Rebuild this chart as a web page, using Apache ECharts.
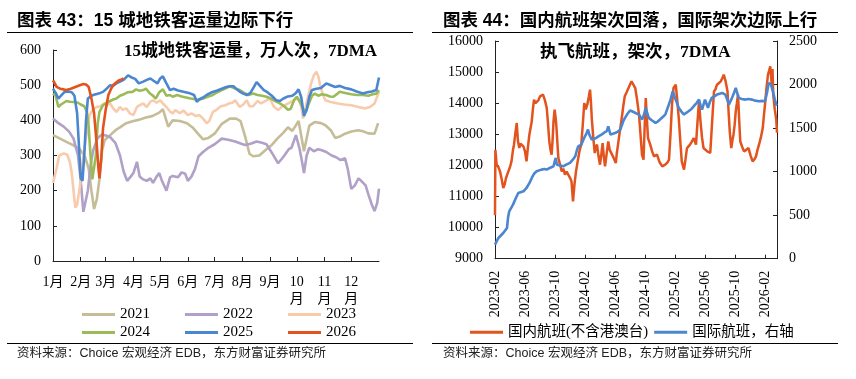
<!DOCTYPE html>
<html><head><meta charset="utf-8">
<script src="https://cdn.jsdelivr.net/npm/echarts@6/dist/echarts.min.js"></script>
<style>html,body{margin:0;padding:0;background:#fff}#c{width:856px;height:379px}</style>
</head><body><div id="c"></div>
<script>
// ---------- Left chart: 15-city metro ridership (万人次, 7DMA), x = day of year ----------
const monthStartDays = [0,31,59,90,120,151,181,212,243,273,304,334];
const monthLabels = ['1月','2月','3月','4月','5月','6月','7月','8月','9月','10\n月','11\n月','12\n月'];
const metroYears = ['2021','2022','2023','2024','2025','2026'];

const days2021 = [0,8,15,22,30,36,40,43,46,49,52,55,58,64,70,75,82,90,97,104,111,119,123,129,134,142,150,157,163,168,174,181,189,198,205,210,215,220,224,231,239,245,252,258,263,268,275,281,287,293,300,305,311,316,322,327,334,342,348,353,360,364];
const vals2021 = [358,348,339,330,318,295,262,200,148,175,232,315,344,358,372,380,392,398,402,408,412,422,432,382,400,398,392,378,360,346,350,362,390,405,405,398,355,305,298,300,318,330,350,365,380,370,398,312,385,395,392,386,372,350,355,362,368,372,368,363,362,392];

const days2022 = [0,6,12,18,23,28,31,34,36,39,42,45,50,55,60,64,70,75,79,83,87,90,94,97,101,105,109,112,116,119,122,127,131,134,140,144,148,151,155,159,163,168,174,181,189,196,204,210,215,222,228,234,239,245,252,256,259,264,267,272,276,279,281,284,287,292,297,301,306,312,317,322,327,330,334,338,342,345,347,350,353,357,360,363,365];
const vals2022 = [405,392,382,368,348,300,230,140,135,200,270,315,350,360,356,352,335,300,255,228,240,250,282,240,232,228,235,222,240,250,228,200,238,242,238,252,248,228,240,262,298,310,322,332,348,345,340,334,330,334,340,336,332,308,278,290,300,318,322,358,320,280,250,300,322,312,318,315,310,300,295,287,292,262,205,215,235,228,225,215,190,160,142,165,206];

const days2023 = [0,4,7,12,16,19,21,23,25,27,30,34,38,41,45,49,53,57,60,64,68,71,75,78,82,86,90,94,97,101,105,109,112,116,120,123,127,131,134,137,142,146,151,155,160,164,168,172,175,179,183,188,193,197,201,204,209,213,217,220,224,229,233,239,243,247,252,256,261,267,272,275,278,280,283,286,289,292,295,297,299,302,305,311,319,326,334,342,349,355,360,365];
const vals2023 = [222,263,300,306,302,280,250,200,152,160,210,300,368,415,432,438,440,448,443,448,432,424,438,430,434,420,415,438,443,448,438,453,457,450,457,448,438,425,420,429,420,428,415,420,412,415,405,392,398,424,430,440,443,448,450,457,438,445,457,440,440,455,448,457,462,440,429,438,445,453,460,462,440,405,440,472,505,528,538,525,501,475,457,452,448,445,443,438,434,438,448,481];

const days2024 = [0,3,6,9,11,15,19,24,28,31,35,38,40,42,44,46,48,50,52,56,60,64,68,71,75,80,84,89,93,97,101,104,108,111,115,119,123,127,131,134,139,144,149,154,159,164,169,174,179,184,189,194,198,204,209,214,219,224,229,234,239,244,249,254,259,263,266,270,273,277,280,283,286,290,293,297,301,306,310,314,318,321,327,334,340,347,353,358,362,365];
const vals2024 = [476,470,438,445,448,455,453,452,450,445,440,424,380,300,232,235,300,390,424,443,450,455,460,462,470,475,480,481,488,484,486,490,478,472,462,480,488,470,472,467,472,468,465,462,460,459,463,468,472,480,486,492,497,490,486,478,472,476,472,470,467,462,455,448,440,430,432,458,467,450,432,424,445,470,476,470,474,472,468,467,475,481,478,474,472,472,470,474,476,486];

const days2025 = [0,3,6,9,13,17,21,24,27,29,31,33,35,37,39,42,45,49,53,56,60,64,67,71,75,79,84,88,92,96,101,105,109,113,117,120,123,127,131,135,140,146,152,158,161,164,168,172,178,184,189,194,198,202,206,210,213,217,221,225,228,231,236,240,245,250,254,258,263,268,272,275,278,281,284,287,290,295,300,306,311,316,321,327,334,340,347,352,357,362,365];
const vals2025 = [490,478,462,470,481,482,480,470,420,330,235,228,300,400,462,468,472,475,478,481,490,500,498,505,510,515,528,522,518,505,510,515,519,512,505,519,525,505,486,490,485,481,478,472,453,460,465,472,480,485,490,495,497,497,488,480,476,472,478,495,509,500,486,480,470,457,455,462,468,470,478,488,465,412,430,468,486,490,492,505,500,495,498,492,488,482,476,480,482,486,522];

const days2026 = [0,2,4,6,8,12,15,20,25,30,34,37,40,43,46,49,51,52,54,56,59,62,65,68,71,74,77,79];
const vals2026 = [514,505,495,500,490,488,486,490,495,500,503,502,495,462,420,330,260,235,290,377,430,472,490,502,508,514,516,519];

// ---------- Right chart: scheduled flights (架次, 7DMA), x = months since 2023-02 ----------
const flightTickMonths = [0,4,8,12,16,20,24,28,32,36];
const flightTickLabels = ['2023-02','2023-06','2023-10','2024-02','2024-06','2024-10','2025-02','2025-06','2025-10','2026-02'];
const domMonths = [0,0.05,0.22,0.45,0.67,0.9,1.1,1.3,1.47,1.78,2.0,2.2,2.4,2.53,2.75,2.9,3.05,3.24,3.4,3.55,3.8,4.0,4.2,4.4,4.58,4.9,5.05,5.2,5.4,5.55,5.8,6.0,6.2,6.4,6.65,6.9,7.05,7.24,7.4,7.55,7.7,7.8,7.95,8.1,8.2,8.35,8.45,8.7,8.9,9.1,9.33,9.55,9.78,10.0,10.2,10.4,10.6,10.8,11.1,11.3,11.5,11.7,11.9,12.1,12.3,12.5,12.67,12.8,12.9,13.1,13.3,13.45,13.6,13.8,14.0,14.2,14.35,14.5,14.67,14.9,15.1,15.3,15.55,15.8,16.1,16.25,16.4,16.65,16.9,17.1,17.3,17.55,17.8,18.0,18.2,18.45,18.7,18.95,19.2,19.4,19.6,19.8,19.95,20.1,20.25,20.4,20.7,20.95,21.2,21.6,21.95,22.3,22.7,23.0,23.2,23.4,23.6,23.8,24.1,24.3,24.5,24.7,24.9,25.2,25.4,25.6,26.0,26.2,26.5,26.8,27.0,27.2,27.4,27.6,27.8,28.05,28.3,28.7,28.95,29.2,29.4,29.6,29.85,30.1,30.3,30.5,30.75,31.0,31.15,31.3,31.5,31.65,31.8,31.95,32.1,32.25,32.4,32.55,32.7,32.95,33.2,33.5,33.8,34.1,34.35,34.6,34.8,35.0,35.2,35.45,35.7,35.85,36.0,36.2,36.4,36.55,36.7,36.8,36.9,37.0,37.1,37.3,37.5,37.6];
const domFlights = [10400,12500,12022,11950,11808,11550,11272,11400,11594,11808,11950,12130,12500,12666,13100,13362,12800,12558,12700,12666,12600,12451,12130,12600,12988,13416,13800,14113,14000,13952,14100,14220,14250,14274,14100,13845,13400,12773,12500,12344,12900,13416,13791,13500,13202,12600,12237,12000,11808,11900,11701,11800,11862,11600,11486,10843,11400,11808,12237,12500,12666,13300,14006,13800,13952,14200,14434,14000,13523,12900,12398,12600,12666,12300,12022,12400,12719,12300,11969,12400,12773,12500,12451,12250,12076,12400,12666,13100,13523,13900,14220,14350,14488,14600,14702,14595,14488,14100,13630,13000,12344,12183,13200,14166,13500,12880,12666,12450,12290,12344,12100,11969,12022,12100,12183,13000,13952,14488,14595,14100,13523,12800,12130,11862,12200,12558,12666,12750,12880,12666,13400,14060,13416,12900,12558,12500,12451,12398,13400,14381,14450,14595,14650,14702,14800,14917,14700,14381,13700,13095,12558,12800,12988,13300,13738,14000,14274,13500,12773,12600,12451,12500,12558,12300,12130,12200,12290,12500,12666,12900,13202,13600,13952,14500,14917,15050,15185,14900,14595,15100,14274,13800,13470,13050];
const intlMonths = [0,0.45,1.1,1.6,1.75,1.9,2.4,2.8,3.1,3.8,4.2,4.6,4.9,5.2,5.55,6.2,6.6,6.9,7.3,7.8,8.0,8.1,8.25,8.45,9.1,9.5,10.0,10.4,10.7,10.9,11.1,11.5,11.8,12.0,12.2,12.4,12.6,12.9,13.5,13.9,14.2,14.6,14.9,15.1,15.25,15.4,16.0,16.4,16.7,16.9,17.1,17.35,17.6,18.0,18.27,18.45,18.8,19.2,19.6,19.85,20.1,20.3,20.5,20.9,21.4,21.7,22.0,22.4,22.7,23.1,23.4,23.7,24.0,24.25,24.5,24.85,25.2,25.5,25.8,26.2,26.5,26.9,27.2,27.4,27.6,27.8,28.0,28.2,28.4,28.65,28.9,29.25,29.6,29.95,30.3,30.7,30.95,31.2,31.4,31.6,31.85,32.1,32.3,32.5,32.9,33.4,33.8,34.3,34.7,35.2,35.6,36.0,36.25,36.5,36.8,37.1,37.3,37.5,37.6];
const intlFlights = [161,238,295,353,480,544,621,700,755,774,812,870,927,975,1004,1023,1030,1023,1042,1061,1130,1157,1080,1061,1061,1080,1100,1140,1176,1240,1291,1310,1370,1406,1440,1483,1420,1368,1387,1410,1425,1450,1464,1521,1470,1425,1444,1460,1483,1530,1579,1620,1655,1701,1693,1674,1670,1655,1598,1650,1732,1670,1617,1590,1560,1575,1598,1630,1655,1750,1827,1923,1847,1790,1732,1690,1655,1675,1693,1720,1751,1790,1827,1760,1712,1770,1827,1780,1732,1800,1847,1865,1885,1895,1904,1885,1830,1770,1810,1847,1900,1961,1900,1847,1835,1827,1835,1827,1815,1808,1812,1808,1900,2019,2000,1904,1830,1770,1760];
const flightNames = ['国内航班(不含港澳台)','国际航班，右轴'];

// ---------- build option ----------
const SERIF = "'Liberation Serif','Noto Sans CJK SC',serif";
const SANS = "'Liberation Sans','Noto Sans CJK SC',sans-serif";
const metroColors = ['#c4bd97','#b1a0c7','#f8cbad','#9bbb59','#4b86d0','#e2531e'];
const metroDays = [days2021,days2022,days2023,days2024,days2025,days2026];
const metroVals = [vals2021,vals2022,vals2023,vals2024,vals2025,vals2026];
const axisCol = '#222';
const pair = (xs, ys) => xs.map((x, i) => [x, ys[i]]);
const plain = v => String(v);

const legendText = {fontFamily: SERIF, fontSize: 15, color: '#000'};

const option = {
  animation: false,
  backgroundColor: '#fff',
  grid: [
    {left: 53, top: 50, width: 326, height: 211},
    {left: 495, top: 41, width: 282, height: 217.7}
  ],
  xAxis: [
    {gridIndex: 0, type: 'value', min: 0, max: 365,
     axisLine: {show: true, lineStyle: {color: axisCol, width: 1}},
     axisTick: {show: true, inside: true, length: 4, customValues: monthStartDays, lineStyle: {color: axisCol}},
     axisLabel: {customValues: monthStartDays, margin: 13, lineHeight: 17, fontFamily: SERIF, fontSize: 14, color: '#000',
       formatter: v => monthLabels[monthStartDays.indexOf(v)] || ''},
     splitLine: {show: false}},
    {gridIndex: 1, type: 'value', min: 0, max: 37.6,
     axisLine: {show: true, onZero: false, lineStyle: {color: axisCol, width: 1}},
     axisTick: {show: true, inside: true, length: 4, customValues: flightTickMonths, lineStyle: {color: axisCol}},
     axisLabel: {customValues: flightTickMonths, rotate: 90, margin: 12, fontFamily: SERIF, fontSize: 14, color: '#000',
       formatter: v => flightTickLabels[flightTickMonths.indexOf(v)] || ''},
     splitLine: {show: false}}
  ],
  yAxis: [
    {gridIndex: 0, type: 'value', min: 0, max: 600, interval: 100,
     axisLine: {show: true, lineStyle: {color: axisCol, width: 1}},
     axisTick: {show: true, inside: true, length: 4, lineStyle: {color: axisCol}},
     axisLabel: {margin: 12, fontFamily: SERIF, fontSize: 14, color: '#000', formatter: plain},
     splitLine: {show: false}},
    {gridIndex: 1, type: 'value', min: 9000, max: 16000, interval: 1000, position: 'left',
     axisLine: {show: true, lineStyle: {color: axisCol, width: 1}},
     axisTick: {show: true, inside: true, length: 4, lineStyle: {color: axisCol}},
     axisLabel: {margin: 12, fontFamily: SERIF, fontSize: 14, color: '#000', formatter: plain},
     splitLine: {show: false}},
    {gridIndex: 1, type: 'value', min: 0, max: 2500, interval: 500, position: 'right',
     axisLine: {show: true, lineStyle: {color: axisCol, width: 1}},
     axisTick: {show: true, inside: true, length: 4, lineStyle: {color: axisCol}},
     axisLabel: {margin: 12, fontFamily: SERIF, fontSize: 14, color: '#000', formatter: plain},
     splitLine: {show: false}}
  ],
  legend: [
    {data: metroYears.slice(0, 3), left: 82, top: 307, itemWidth: 33, itemHeight: 3, itemGap: 35, icon: 'rect', textStyle: legendText, padding: 0},
    {data: metroYears.slice(3), left: 82, top: 325, itemWidth: 33, itemHeight: 3, itemGap: 35, icon: 'rect', textStyle: legendText, padding: 0},
    {data: flightNames, left: 470, top: 325, itemWidth: 33, itemHeight: 3, itemGap: 6, icon: 'rect',
     textStyle: {fontFamily: SERIF, fontSize: 14.5, color: '#000'}, padding: 0}
  ],
  series: [
    ...metroYears.map((y, i) => ({
      name: y, type: 'line', xAxisIndex: 0, yAxisIndex: 0, showSymbol: false, symbol: 'none',
      data: pair(metroDays[i], metroVals[i]),
      lineStyle: {width: 2.6, color: metroColors[i]}, itemStyle: {color: metroColors[i]}
    })),
    {name: flightNames[0], type: 'line', xAxisIndex: 1, yAxisIndex: 1, showSymbol: false, symbol: 'none',
     data: pair(domMonths, domFlights), lineStyle: {width: 2.5, color: '#e2531e'}, itemStyle: {color: '#e2531e'}},
    {name: flightNames[1], type: 'line', xAxisIndex: 1, yAxisIndex: 2, showSymbol: false, symbol: 'none',
     data: pair(intlMonths, intlFlights), lineStyle: {width: 2.6, color: '#4b86d0'}, itemStyle: {color: '#4b86d0'}}
  ],
  graphic: [
    {type: 'text', x: 17, y: 21, style: {text: '图表 43：15 城地铁客运量边际下行', font: "bold 17.5px " + SANS, fill: '#000', verticalAlign: 'middle'}},
    {type: 'text', x: 443, y: 21, style: {text: '图表 44：国内航班架次回落，国际架次边际上行', font: "bold 17.5px " + SANS, fill: '#000', verticalAlign: 'middle'}},
    {type: 'line', shape: {x1: 7, y1: 32.5, x2: 413, y2: 32.5}, style: {stroke: '#000', lineWidth: 1.2}},
    {type: 'line', shape: {x1: 432, y1: 32.5, x2: 838, y2: 32.5}, style: {stroke: '#000', lineWidth: 1.2}},
    {type: 'line', shape: {x1: 7, y1: 343.5, x2: 413, y2: 343.5}, style: {stroke: '#000', lineWidth: 1.2}},
    {type: 'line', shape: {x1: 432, y1: 343.5, x2: 838, y2: 343.5}, style: {stroke: '#000', lineWidth: 1.2}},
    {type: 'text', x: 124, y: 52, style: {text: '15城地铁客运量，万人次，7DMA', font: "bold 17px " + SERIF, fill: '#000', verticalAlign: 'middle'}},
    {type: 'text', x: 540, y: 52, style: {text: '执飞航班，架次，7DMA', font: "bold 17.5px " + SERIF, fill: '#000', verticalAlign: 'middle'}},
    {type: 'text', x: 17, y: 354, style: {text: '资料来源：Choice 宏观经济 EDB，东方财富证券研究所', font: "12.5px " + SANS, fill: '#222', verticalAlign: 'middle'}},
    {type: 'text', x: 443, y: 354, style: {text: '资料来源：Choice 宏观经济 EDB，东方财富证券研究所', font: "12.5px " + SANS, fill: '#222', verticalAlign: 'middle'}}
  ]
};

const chart = echarts.init(document.getElementById('c'), null, {renderer: 'canvas'});
chart.setOption(option);
</script>
</body></html>
